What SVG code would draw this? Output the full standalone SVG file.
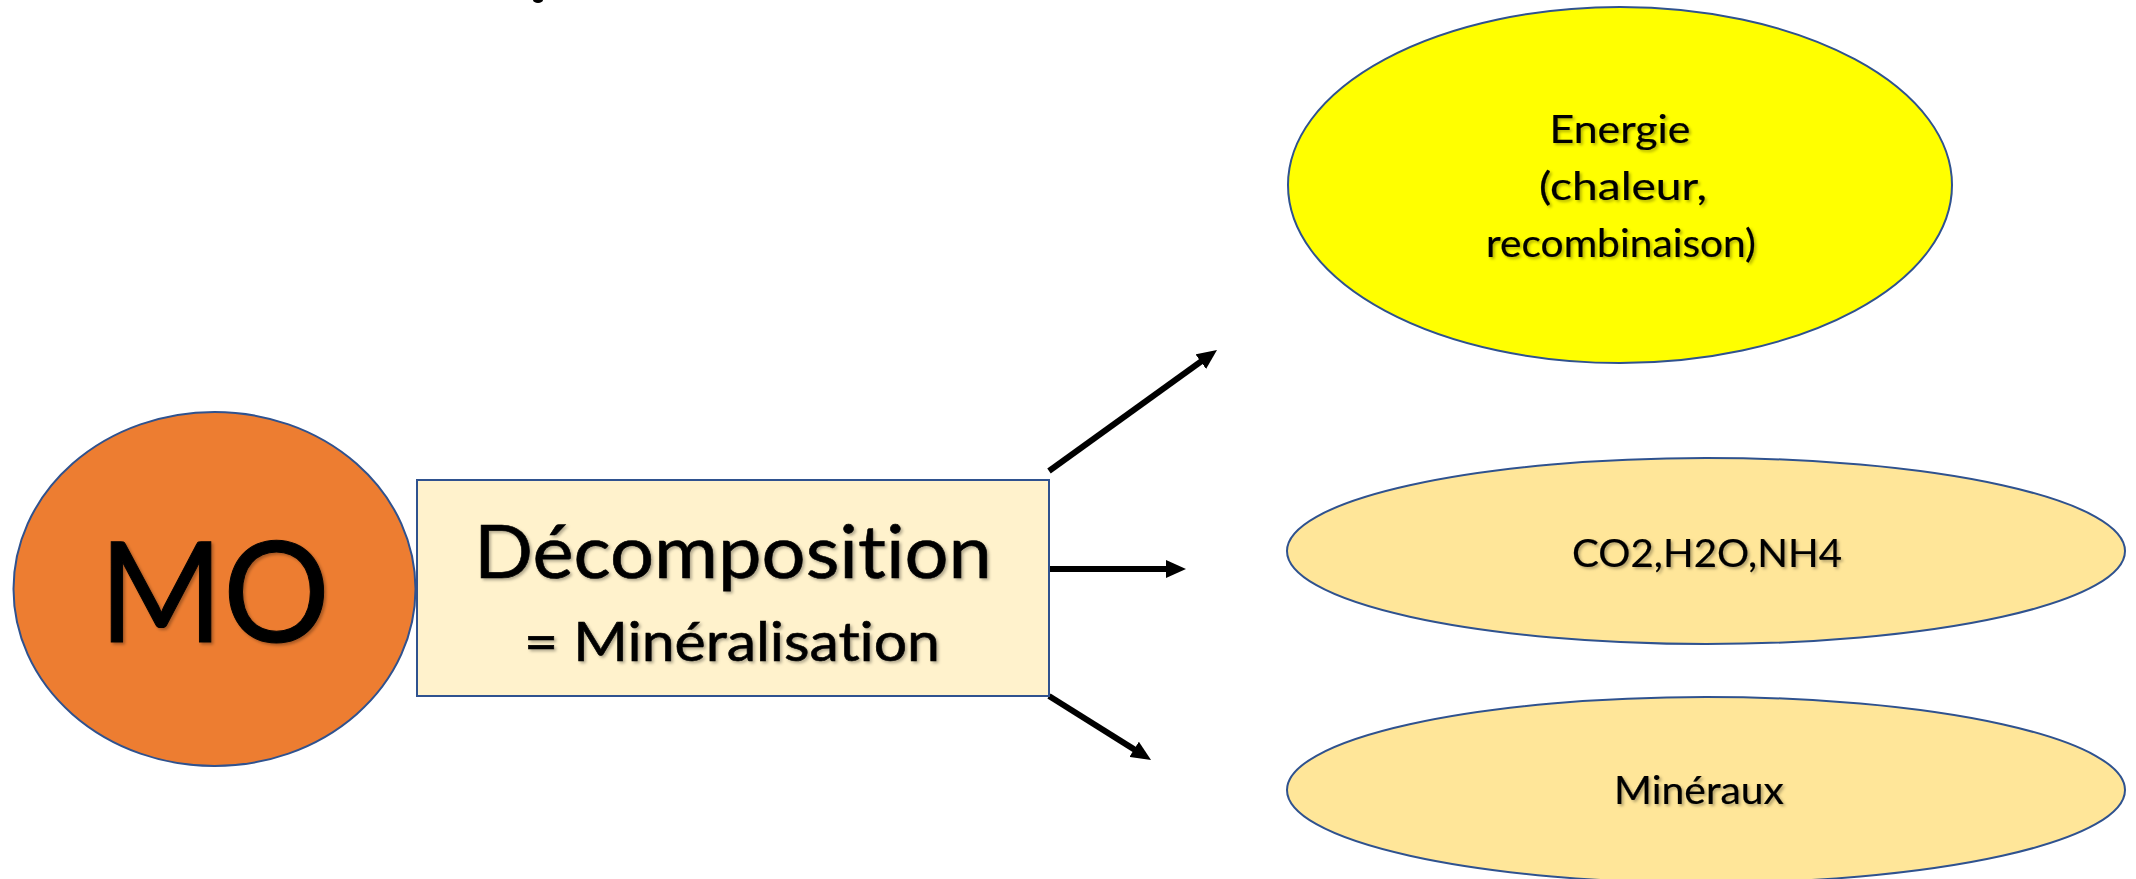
<svg xmlns="http://www.w3.org/2000/svg" width="2136" height="879" viewBox="0 0 2136 879">
<style>
.lbl{font-family:Lato,"Liberation Sans",sans-serif;fill:#000;stroke:#000;stroke-width:0.6;text-anchor:middle;font-variant-ligatures:none;filter:url(#sh)}
.sm{stroke-width:0.2}
.node{stroke:#2F528F;stroke-width:2}
.conn{stroke:#000;stroke-width:6;fill:none;marker-end:url(#ah)}
</style>
<defs>
<filter id="sh" x="-10%" y="-30%" width="120%" height="160%">
<feDropShadow dx="2" dy="2" stdDeviation="1.5" flood-color="#000" flood-opacity="0.3"/>
</filter>
<marker id="ah" markerUnits="userSpaceOnUse" viewBox="0 0 20 18" markerWidth="20" markerHeight="18" refX="2" refY="9" orient="auto">
<path d="M0,0 L20,9 L0,18 z" fill="#000"/>
</marker>
</defs>
<rect width="2136" height="879" fill="#fff"/>
<ellipse cx="538" cy="0" rx="5" ry="3" fill="#000"/>
<g id="connectors">
<line class="conn" x1="1049" y1="471" x2="1202.4" y2="360.5"/>
<line class="conn" x1="1049" y1="569" x2="1168" y2="569"/>
<line class="conn" x1="1049" y1="696" x2="1135.8" y2="750.4"/>
</g>
<g id="mo">
<ellipse class="node" cx="214.5" cy="589" rx="201" ry="177" fill="#ED7D31"/>
<text class="lbl" x="214.5" y="642" font-size="140" textLength="231" lengthAdjust="spacingAndGlyphs" style="stroke-width:1">MO</text>
</g>
<g id="decomposition">
<rect class="node" x="417" y="480" width="632" height="216" fill="#FFF2CC"/>
<text class="lbl" x="733" y="578" font-size="74" textLength="518" lengthAdjust="spacingAndGlyphs">Décomposition</text>
<text class="lbl" x="732" y="661" font-size="54" textLength="416" lengthAdjust="spacingAndGlyphs">= Minéralisation</text>
</g>
<g id="energie">
<ellipse class="node" cx="1620" cy="185" rx="332" ry="178" fill="#FFFF00"/>
<text class="lbl sm" x="1620" y="143" font-size="39" textLength="141" lengthAdjust="spacingAndGlyphs">Energie</text>
<text class="lbl sm" x="1623" y="200" font-size="39" textLength="168" lengthAdjust="spacingAndGlyphs">(chaleur,</text>
<text class="lbl sm" x="1621" y="257" font-size="39" textLength="270" lengthAdjust="spacingAndGlyphs">recombinaison)</text>
</g>
<g id="co2">
<ellipse class="node" cx="1706" cy="551" rx="419" ry="93" fill="#FFE699"/>
<text class="lbl sm" x="1707" y="567" font-size="38" textLength="270" lengthAdjust="spacingAndGlyphs">CO2,H2O,NH4</text>
</g>
<g id="mineraux">
<ellipse class="node" cx="1706" cy="790" rx="419" ry="93" fill="#FFE699"/>
<text class="lbl sm" x="1699" y="804" font-size="38" textLength="170" lengthAdjust="spacingAndGlyphs">Minéraux</text>
</g>
</svg>
